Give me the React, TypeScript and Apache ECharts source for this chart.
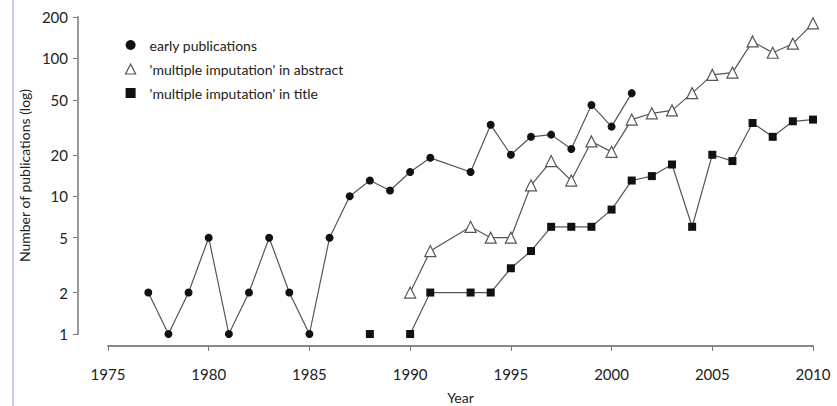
import React, { useEffect, useRef } from "react";
import * as echarts from "echarts";

const yTickValues = [1, 2, 5, 10, 20, 50, 100, 200];
const xMin = 1975;
const xMax = 2010;

const earlyYears = [1977, 1978, 1979, 1980, 1981, 1982, 1983, 1984, 1985, 1986, 1987, 1988, 1989, 1990, 1991, 1993, 1994, 1995, 1996, 1997, 1998, 1999, 2000, 2001];
const earlyCounts = [2, 1, 2, 5, 1, 2, 5, 2, 1, 5, 10, 13, 11, 15, 19, 15, 33, 20, 27, 28, 22, 46, 32, 56];

const abstractYears = [1990, 1991, 1993, 1994, 1995, 1996, 1997, 1998, 1999, 2000, 2001, 2002, 2003, 2004, 2005, 2006, 2007, 2008, 2009, 2010];
const abstractCounts = [2, 4, 6, 5, 5, 12, 18, 13, 25, 21, 36, 40, 42, 56, 76, 79, 133, 110, 128, 180];

const titleYears = [1988, 1989, 1990, 1991, 1993, 1994, 1995, 1996, 1997, 1998, 1999, 2000, 2001, 2002, 2003, 2004, 2005, 2006, 2007, 2008, 2009, 2010];
const titleCounts = [1, null, 1, 2, 2, 2, 3, 4, 6, 6, 6, 8, 13, 14, 17, 6, 20, 18, 34, 27, 35, 36];

const seriesNames = ["early publications", "'multiple imputation' in abstract", "'multiple imputation' in title"];

const FONT = "Lato";
const TEXT = "#222";
const LINE = "#555";
const AXIS = "#888";
const GRID = { left: 108, right: 24, top: 17, bottom: 72 };
const W = 837;
const H = 406;
const Y_OFFSET = 30;

function toPairs(years: number[], counts: (number | null)[]) {
  return years.map((y, i) => {
    const c = counts[i];
    return c == null ? [y, "-"] : [y, Math.log10(c)];
  });
}

export default function App() {
  const ref = useRef<HTMLDivElement>(null);
  useEffect(() => {
    document.body.style.margin = "0";
    if (!ref.current) return;
    const chart = echarts.init(ref.current, undefined, { renderer: "svg" });
    const logTicks = yTickValues.map((v) => Math.log10(v));
    const yMax = Math.log10(yTickValues[yTickValues.length - 1]);
    chart.setOption({
      animation: false,
      backgroundColor: "#fff",
      textStyle: { fontFamily: FONT },
      grid: { ...GRID, containLabel: false, outerBoundsMode: "none" },
      graphic: [
        { type: "rect", left: 12, top: 0, shape: { width: 2, height: H }, style: { fill: "#c8c8f8" }, silent: true },
        {
          type: "rect",
          left: GRID.left - Y_OFFSET - 1,
          top: GRID.top,
          shape: { width: 2, height: H - GRID.bottom - GRID.top },
          style: { fill: "#999" },
          silent: true,
          z: 10,
        },
      ],
      legend: {
        orient: "vertical",
        left: 120,
        top: 33,
        itemWidth: 10,
        itemHeight: 10,
        itemGap: 10,
        textStyle: { fontFamily: FONT, fontSize: 14, color: TEXT, padding: [0, 0, 0, 9] },
        data: [
          { name: seriesNames[0], icon: "circle", itemStyle: { color: "#111", borderWidth: 0 } },
          { name: seriesNames[1], icon: "triangle", itemStyle: { color: "#fff", borderColor: LINE, borderWidth: 1.2 } },
          { name: seriesNames[2], icon: "rect", itemStyle: { color: "#111", borderWidth: 0 } },
        ],
      },
      xAxis: {
        type: "value",
        min: xMin,
        max: xMax,
        interval: 5,
        offset: 12,
        name: "Year",
        nameLocation: "middle",
        nameGap: 44,
        nameTextStyle: { fontFamily: FONT, fontSize: 14, color: TEXT },
        axisLine: { onZero: false, lineStyle: { color: AXIS, width: 2 } },
        axisTick: { length: 5, lineStyle: { color: "#777" } },
        axisLabel: { fontFamily: FONT, fontSize: 15, color: TEXT, margin: 20, formatter: (v: number) => String(v) },
        splitLine: { show: false },
      },
      yAxis: {
        type: "value",
        min: 0,
        max: yMax,
        offset: Y_OFFSET,
        name: "Number of publications (log)",
        nameLocation: "middle",
        nameGap: 44,
        nameTextStyle: { fontFamily: FONT, fontSize: 14, color: TEXT },
        axisLine: { show: true, onZero: false, lineStyle: { color: AXIS, width: 2 } },
        axisTick: { show: true, length: 5, customValues: logTicks, lineStyle: { color: "#777" } },
        axisLabel: {
          fontFamily: FONT,
          fontSize: 15,
          color: TEXT,
          margin: 10,
          customValues: logTicks,
          formatter: (v: number) => String(Math.round(Math.pow(10, v))),
        },
        splitLine: { show: false },
      },
      series: [
        {
          name: seriesNames[0],
          type: "line",
          data: toPairs(earlyYears, earlyCounts),
          symbol: "circle",
          symbolSize: 8,
          showAllSymbol: true,
          itemStyle: { color: "#111" },
          lineStyle: { color: LINE, width: 1.2 },
          z: 3,
        },
        {
          name: seriesNames[1],
          type: "line",
          data: toPairs(abstractYears, abstractCounts),
          symbol: "triangle",
          symbolSize: 11,
          showAllSymbol: true,
          itemStyle: { color: "#fff", borderColor: LINE, borderWidth: 1.2 },
          lineStyle: { color: LINE, width: 1.2 },
          z: 4,
        },
        {
          name: seriesNames[2],
          type: "line",
          data: toPairs(titleYears, titleCounts),
          symbol: "rect",
          symbolSize: 8,
          showAllSymbol: true,
          connectNulls: false,
          itemStyle: { color: "#111" },
          lineStyle: { color: LINE, width: 1.2 },
          z: 3,
        },
      ],
    });
    return () => chart.dispose();
  }, []);
  return <div ref={ref} style={{ width: W, height: H }} />;
}
